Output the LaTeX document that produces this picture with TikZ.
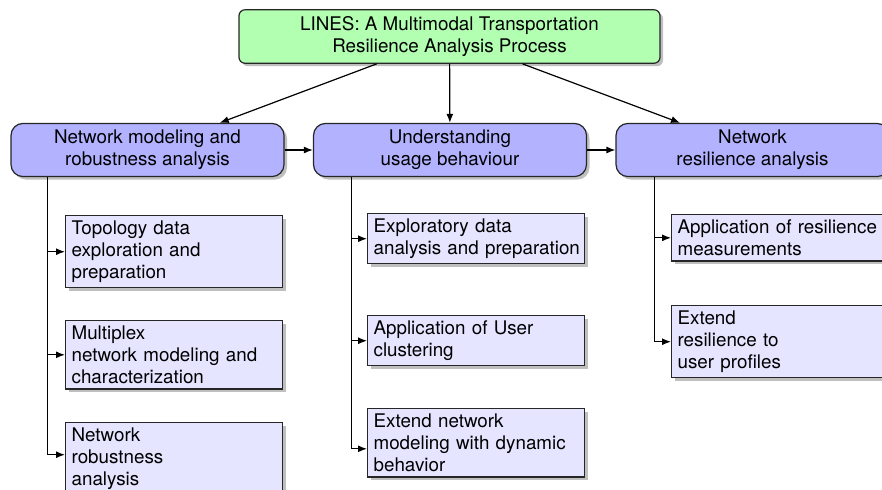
\documentclass[tikz,border=0pt]{standalone}
\usepackage{fontspec}
\setmainfont{TeX Gyre Heros}
\usetikzlibrary{shadows,arrows.meta}

\begin{document}
\begin{tikzpicture}[x=0.5pt,y=-0.5pt,
  font=\fontsize{9.4}{11}\selectfont,
  boxshadow/.style={drop shadow={shadow xshift=1.5pt,shadow yshift=-1.5pt}},
  basebox/.style={draw=black!85, line width=0.6pt, boxshadow},
  titlebox/.style={basebox, fill=green!30, rounded corners=3pt,
    minimum width=210.5pt, minimum height=25.5pt, align=center},
  phasebox/.style={basebox, fill=blue!30, rounded corners=6pt,
    minimum width=136.5pt, minimum height=26pt, align=center},
  taskbox/.style={basebox, fill=blue!10, anchor=north west,
    text width=102.5pt, inner xsep=3pt, inner ysep=2.6pt, align=left,
    execute at begin node={\hyphenpenalty=10000 }},
  arr/.style={draw=black, line width=0.6pt, -{Latex[length=4.5pt,width=3.5pt]}},
]
\useasboundingbox (0,0) rectangle (882,489);
\clip (0,0) rectangle (882,489);

% overall process
\node[titlebox] (top) at (449.5,36.5)
  {LINES: A Multimodal Transportation\\Resilience Analysis Process};

% the three phases
\node[phasebox] (p1) at (147.5,150) {Network modeling and\\robustness analysis};
\node[phasebox] (p2) at (450,150) {Understanding\\usage behaviour};
\node[phasebox] (p3) at (752.5,150) {Network\\resilience analysis};

% tasks of phase 1
\node[taskbox] (a1) at (65,215) {Topology data\\exploration and\\preparation};
\node[taskbox] (a2) at (65,320) {Multiplex\\network modeling and\\characterization};
\node[taskbox] (a3) at (65,422) {Network\\robustness\\analysis};

% tasks of phase 2
\node[taskbox] (b1) at (367,213) {Exploratory data\\\mbox{analysis and preparation}};
\node[taskbox] (b2) at (367,315) {Application of User\\clustering};
\node[taskbox] (b3) at (367,408) {Extend network\\modeling with dynamic\\behavior};

% tasks of phase 3
\node[taskbox] (c1) at (671,214) {\mbox{Application of resilience}\\measurements};
\node[taskbox] (c2) at (671,305) {Extend\\resilience to\\user profiles};

% process to phases
\draw[arr] (top) -- (p1);
\draw[arr] (top) -- (p2);
\draw[arr] (top) -- (p3);

% phase sequence
\draw[arr] (p1) -- (p2);
\draw[arr] (p2) -- (p3);

% phase to task trees
\draw[arr] ([xshift=18.5pt]p1.south west) |- (a1.west);
\draw[arr] ([xshift=18.5pt]p1.south west) |- (a2.west);
\draw[arr] ([xshift=18.5pt]p1.south west) |- ([yshift=2pt]a3.west);

\draw[arr] ([xshift=19.25pt]p2.south west) |- (b1.west);
\draw[arr] ([xshift=19.25pt]p2.south west) |- (b2.west);
\draw[arr] ([xshift=19.25pt]p2.south west) |- ([yshift=-3pt]b3.west);

\draw[arr] ([xshift=19.5pt]p3.south west) |- (c1.west);
\draw[arr] ([xshift=19.5pt]p3.south west) |- (c2.west);
\end{tikzpicture}
\end{document}
